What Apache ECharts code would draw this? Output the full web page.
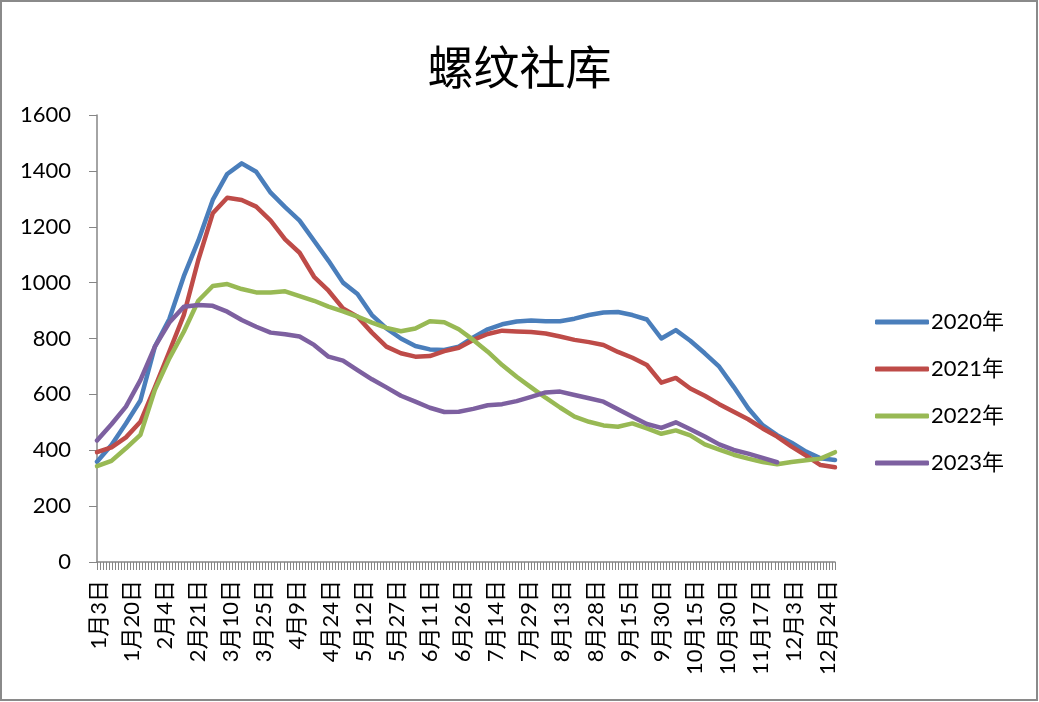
<!DOCTYPE html>
<html>
<head>
<meta charset="utf-8">
<script src="https://cdn.jsdelivr.net/npm/echarts@6/dist/echarts.min.js"></script>
<style>
  html, body { margin: 0; padding: 0; background: #fff; }
  #container { width: 1039px; height: 702px; }
</style>
</head>
<body>
<div id="container"></div>
<script>
// axis labels shown every 11 trading days
var tickLabels = ['1月3日', '1月20日', '2月4日', '2月21日', '3月10日', '3月25日', '4月9日', '4月24日',
    '5月12日', '5月27日', '6月11日', '6月26日', '7月14日', '7月29日', '8月13日', '8月28日',
    '9月15日', '9月30日', '10月15日', '10月30日', '11月17日', '12月3日', '12月24日'];
var dayCount = 245;
var labelEvery = 11;

var seriesNames = ['2020年', '2021年', '2022年', '2023年'];

// weekly stock values
var stock2020 = [359, 419, 496, 578, 771, 870, 1023, 1150, 1296, 1389, 1427, 1397, 1322, 1270, 1222, 1150,
    1078, 1000, 959, 884, 836, 800, 773, 761, 759, 771, 804, 833, 851, 861, 864, 862, 862, 871, 884, 893,
    895, 884, 868, 800, 830, 792, 747, 699, 627, 550, 490, 454, 427, 395, 371, 365];
var stock2021 = [393, 410, 446, 502, 625, 753, 884, 1081, 1248, 1304, 1296, 1272, 1222, 1155, 1107, 1021,
    971, 908, 878, 821, 771, 747, 735, 737, 755, 767, 795, 816, 828, 825, 823, 818, 807, 795, 787, 777,
    752, 731, 705, 642, 659, 621, 595, 565, 538, 511, 478, 449, 413, 381, 347, 339];
var stock2022 = [343, 362, 407, 455, 616, 729, 824, 935, 988, 995, 977, 965, 965, 969, 952, 935,
    914, 897, 878, 857, 838, 826, 836, 862, 858, 833, 795, 753, 705, 663, 625, 588, 553, 520, 502, 489,
    484, 496, 478, 459, 471, 453, 421, 402, 384, 370, 358, 350, 358, 364, 370, 393];
var stock2023 = [435, 493, 556, 651, 771, 857, 914, 920, 917, 896, 866, 842, 821, 815, 807, 777,
    735, 721, 687, 654, 625, 595, 574, 552, 537, 538, 548, 561, 565, 576, 591, 607, 610, 598, 586, 574,
    547, 520, 494, 480, 500, 475, 449, 421, 401, 388, 373, 357];

var colors = ['#4A7EBB', '#BE4B48', '#98B954', '#7D60A0'];
var numFont = "Lato, 'Noto Sans CJK SC', sans-serif";

document.addEventListener('DOMContentLoaded', function () {
    var days = Array.from({ length: dayCount }, function (_, i) {
        return i % labelEvery === 0 ? tickLabels[i / labelEvery] : '';
    });
    var weeks = Array.from({ length: stock2020.length }, function (_, i) { return 'w' + (i + 1); });

    var chart = echarts.init(document.getElementById('container'));

    var option = {
        animation: false,
        backgroundColor: '#fff',
        title: {
            text: '螺纹社库',
            left: 'center',
            top: 36,
            textStyle: {
                fontFamily: "'Noto Sans CJK SC', sans-serif",
                fontSize: 46,
                fontWeight: 'normal',
                color: '#000',
                lineHeight: 52
            }
        },
        graphic: [{
            type: 'rect',
            shape: { x: 1, y: 1, width: 1036, height: 699 },
            style: { fill: 'none', stroke: '#8a8a8a', lineWidth: 2 },
            silent: true
        }],
        legend: {
            orient: 'vertical',
            left: 875,
            top: 310,
            padding: 0,
            itemWidth: 54,
            itemHeight: 5,
            itemGap: 23,
            icon: 'roundRect',
            data: seriesNames,
            textStyle: {
                fontFamily: numFont,
                fontSize: 22,
                color: '#000',
                lineHeight: 24,
                padding: [0, 0, 0, -3]
            }
        },
        grid: {
            left: 97,
            right: 204,
            top: 115,
            bottom: 140
        },
        xAxis: [{
            type: 'category',
            data: days,
            boundaryGap: true,
            axisLine: { lineStyle: { color: '#868686', width: 1.5 } },
            axisTick: { show: true, interval: 0, length: 8, lineStyle: { color: '#868686' } },
            axisLabel: {
                interval: labelEvery - 1,
                rotate: 90,
                margin: 18,
                fontFamily: numFont,
                fontSize: 22,
                color: '#000'
            },
            splitLine: { show: false }
        }, {
            type: 'category',
            data: weeks,
            boundaryGap: false,
            show: false
        }],
        yAxis: {
            type: 'value',
            min: 0,
            max: 1600,
            interval: 200,
            axisLine: { show: true, lineStyle: { color: '#868686', width: 1.5 } },
            axisTick: { show: true, length: 8, lineStyle: { color: '#868686' } },
            axisLabel: {
                margin: 26,
                fontFamily: numFont,
                fontSize: 22,
                color: '#000',
                formatter: function (v) { return String(v); }
            },
            splitLine: { show: false }
        },
        series: [stock2020, stock2021, stock2022, stock2023].map(function (values, k) {
            return {
                name: seriesNames[k],
                type: 'line',
                xAxisIndex: 1,
                data: values,
                symbol: 'none',
                smooth: false,
                itemStyle: { color: colors[k] },
                lineStyle: { color: colors[k], width: 4.5, cap: 'round', join: 'round' }
            };
        })
    };

    chart.setOption(option);
});
</script>
</body>
</html>
